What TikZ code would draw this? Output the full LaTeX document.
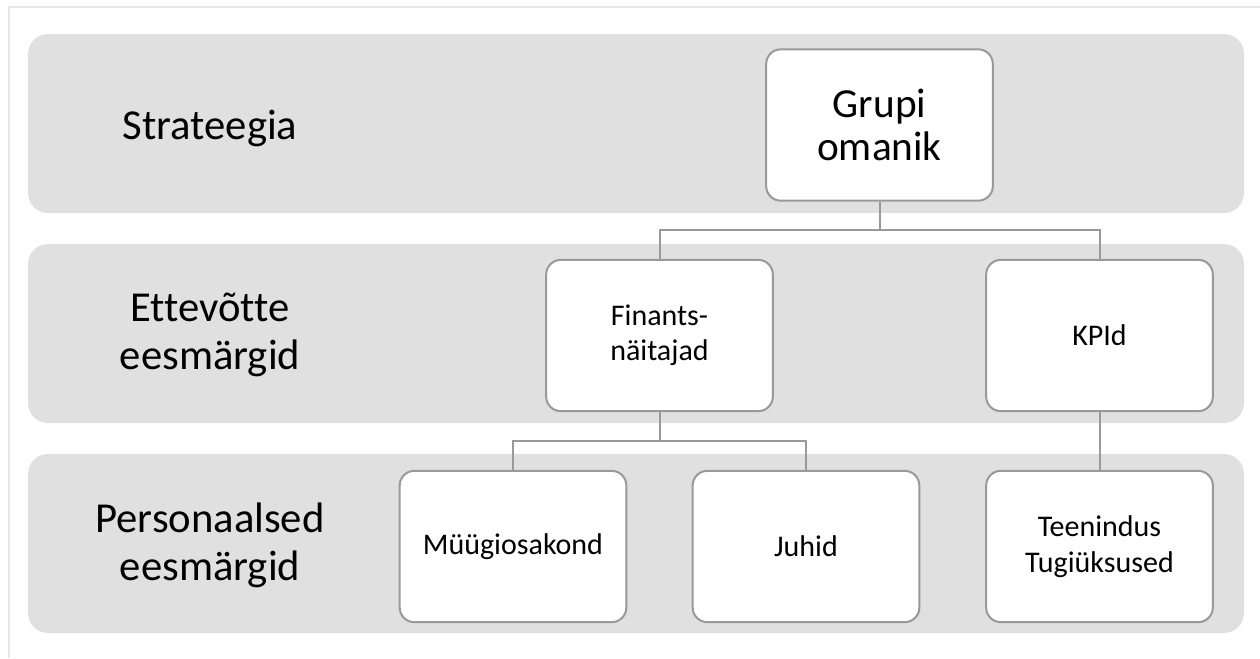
\documentclass[tikz,border=0pt]{standalone}
\usepackage{fontspec}
\setmainfont{Carlito}[Ligatures=NoCommon]
\usetikzlibrary{calc}
\definecolor{bandgray}{HTML}{E0E0E0}
\definecolor{linegray}{HTML}{999999}
\definecolor{framegray}{HTML}{E8E8E8}
\tikzset{
  band/.style={fill=bandgray, rounded corners=15pt},
  lbl/.style={align=center, font=\fontsize{32}{36}\selectfont},
  box/.style={draw=linegray, line width=1.5pt, fill=white, rounded corners=11pt,
    minimum width=170pt, minimum height=113.5pt, align=center,
    font=\fontsize{22.5}{26.5}\selectfont},
  conn/.style={draw=linegray, line width=1.5pt}
}
\begin{document}
\begin{tikzpicture}[x=0.75pt, y=-0.75pt]
\useasboundingbox (0,0) rectangle (1260,658);
\draw [framegray, line width=0.8pt] (9,658) -- (9,7) -- (1260,7);
\fill [band] (28,34) rectangle (1244,213);
\fill [band] (28,244) rectangle (1244,423);
\fill [band] (28,454) rectangle (1244,633);
\node [lbl] (strat) at (210,128) {Strateegia};
\node [lbl] (ette) at (210,335) {Ettevõtte\\eesmärgid};
\node [lbl] (pers) at (210,545) {Personaalsed\\eesmärgid};
\node [box, font=\fontsize{31}{32.5}\selectfont] (grupi) at (879.5,125) {Grupi\\omanik};
\node [box] (fin) at (659.5,335.5) {Finants-\\näitajad};
\node [box] (kpi) at (1099.5,335.5) {KPId};
\node [box] (mug) at (513,546.5) {Müügiosakond};
\node [box] (juh) at (806,546.5) {Juhid};
\node [box] (ten) at (1099.5,546.5) {Teenindus\\Tugiüksused};
\coordinate (j1) at (879.5,230);
\coordinate (j2) at (659.5,441);
\draw [conn] (grupi.south) -- (j1);
\draw [conn] (fin.north) |- (j1) -| (kpi.north);
\draw [conn] (fin.south) -- (j2);
\draw [conn] (mug.north) |- (j2) -| (juh.north);
\draw [conn] (kpi.south) -- (ten.north);
\end{tikzpicture}
\end{document}
